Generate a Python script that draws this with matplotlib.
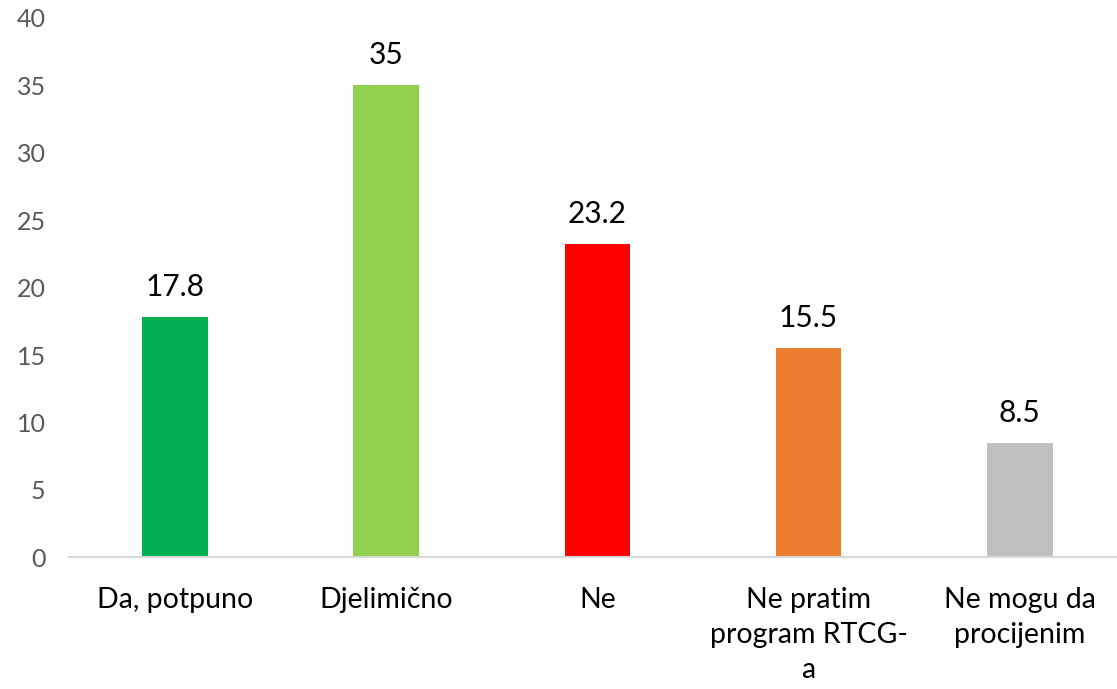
import matplotlib
matplotlib.use('Agg')
import matplotlib.pyplot as plt

categories = ['Da, potpuno', 'Djelimično', 'Ne', 'Ne pratim\nprogram RTCG-\na', 'Ne mogu da\nprocijenim']
values = [17.8, 35, 23.2, 15.5, 8.5]
colors = ['#00B050', '#92D050', '#FF0000', '#ED7D31', '#BFBFBF']
yticks = [0, 5, 10, 15, 20, 25, 30, 35, 40]

plt.rcParams['font.family'] = ['Lato', 'DejaVu Sans']

fig = plt.figure(figsize=(11.17, 6.89), dpi=100)
ax = fig.add_axes([0.062, 0.191, 0.938, 0.783])

x = list(range(len(categories)))
bars = ax.bar(x, values, width=0.31, color=colors, zorder=2)
for b, v in zip(bars, values):
    ax.text(b.get_x() + b.get_width() / 2, v + 1.2, f'{v:g}', ha='center', va='bottom',
            fontsize=21.5, color='black')

ax.set_xlim(-0.5, 4.46)
ax.set_ylim(0, 40)
ax.set_yticks(yticks)
ax.set_xticks(x)
ax.set_xticklabels(categories, fontsize=20.5, color='black', linespacing=1.45, va='top')
ax.tick_params(axis='y', labelsize=18, labelcolor='#595959', length=0, pad=17)
ax.tick_params(axis='x', length=0, pad=21)
for s in ['top', 'right', 'left']:
    ax.spines[s].set_visible(False)
ax.spines['bottom'].set_color('#D9D9D9')
ax.spines['bottom'].set_linewidth(1.5)

fig.savefig('out.png', dpi=100)
